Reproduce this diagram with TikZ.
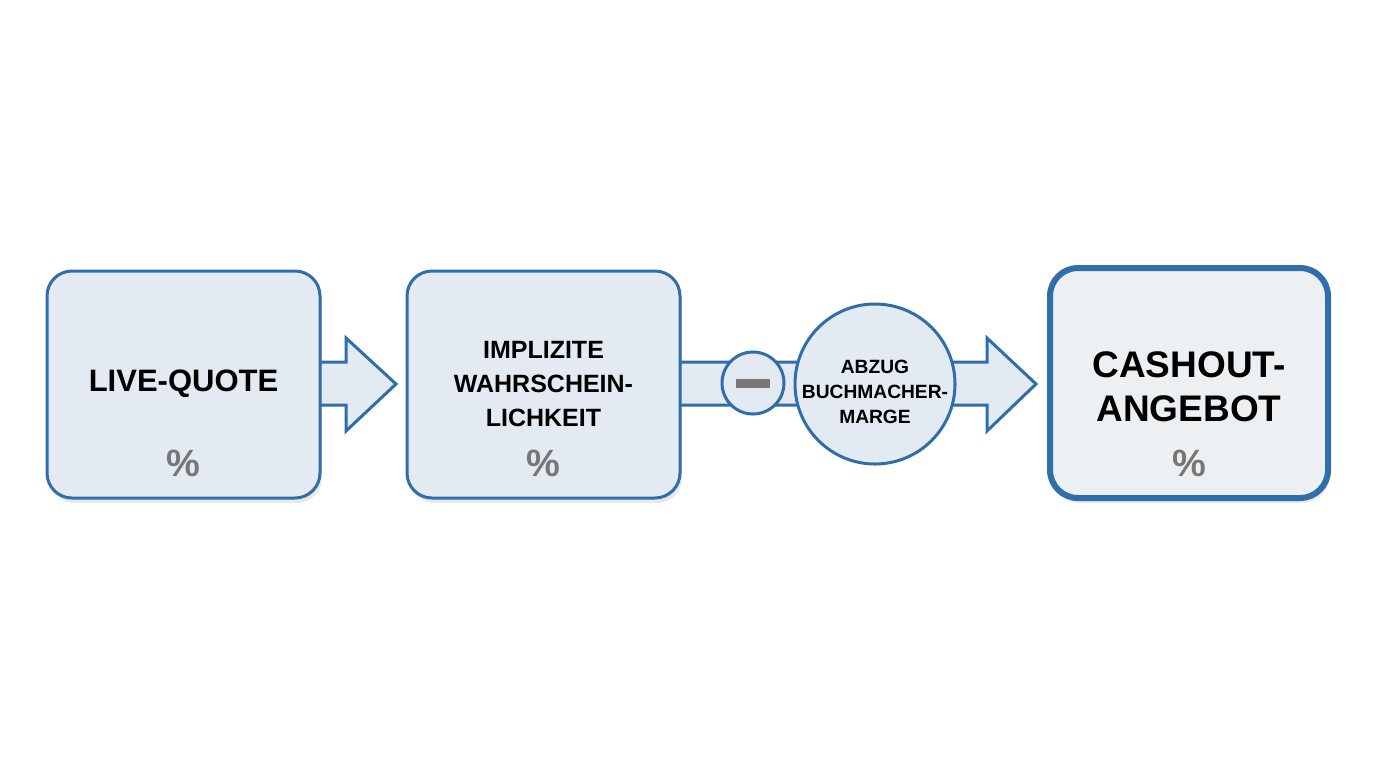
\documentclass[tikz,border=0pt]{standalone}
\usepackage{fontspec}
\setmainfont{Liberation Sans}
\usetikzlibrary{calc,shadows}
\definecolor{bstroke}{HTML}{2F6EAA}
\definecolor{bfill}{HTML}{E3EAF1}
\definecolor{bfill3}{HTML}{EDF0F3}
\definecolor{pct}{HTML}{777777}
\tikzset{
  boxnode/.style={draw=bstroke,fill=bfill,line width=1.5pt,rounded corners=12.5pt,
    minimum width=136.5pt,minimum height=113.5pt,inner sep=0pt,
    drop shadow={opacity=0.18,shadow xshift=1pt,shadow yshift=-2.5pt}},
  arrowshape/.style={draw=bstroke,fill=bfill,line width=1.5pt,line join=miter},
  lbl/.style={font=\bfseries,text=black,align=center,inner sep=0pt},
  pctlbl/.style={font=\bfseries\fontsize{19}{19}\selectfont,text=pct,inner sep=0pt},
  circnode/.style={circle,draw=bstroke,fill=bfill,line width=1.5pt,inner sep=0pt}
}
\begin{document}
\begin{tikzpicture}[x=0.5pt,y=-0.5pt]
\useasboundingbox[fill=white] (0,0) rectangle (1376,768);
% arrows first
\coordinate (a1s) at (320,384);
\coordinate (a2s) at (681,384);
\draw[arrowshape] ($(a1s)+(-10,-22)$) -- (346,362) -- (346,338) -- (396,384) -- (346,431) -- (346,405) -- ($(a1s)+(-10,21)$) -- cycle;
\draw[arrowshape] ($(a2s)+(-10,-22)$) -- (987,362) -- (987,338) -- (1036,384) -- (987,431) -- (987,405) -- ($(a2s)+(-10,21)$) -- cycle;
% boxes
\node[boxnode] (b1) at (183.5,384.5) {};
\node[boxnode] (b2) at (543.5,384.5) {};
\node[boxnode,fill=bfill3,line width=3pt,rounded corners=14pt,minimum width=139pt,minimum height=115pt] (b3) at (1189,383) {};
% circles
\node[circnode,minimum size=80pt] (cm) at (875,384) {};
\node[circnode,minimum size=31pt] (cs) at (753,383) {};
\fill[pct] (736,379) rectangle (770,388);
% labels
\node[lbl,font=\bfseries\fontsize{15.5}{15.5}\selectfont] (t1) at (183.5,384) {LIVE-QUOTE};
\node[pctlbl] (p1) at (183.5,463) {\%};
\node[lbl,font=\bfseries\fontsize{12.5}{17}\selectfont] (t2) at (543.5,384) {IMPLIZITE\\WAHRSCHEIN-\\LICHKEIT};
\node[pctlbl] (p2) at (543.5,463) {\%};
\node[lbl,font=\bfseries\fontsize{9.6}{12.5}\selectfont] (t3) at (875,392) {ABZUG\\BUCHMACHER-\\MARGE};
\node[lbl,font=\bfseries\fontsize{18.5}{22}\selectfont] (t4) at (1189,387) {CASHOUT-\\ANGEBOT};
\node[pctlbl] (p3) at (1189,463) {\%};
\end{tikzpicture}
\end{document}
